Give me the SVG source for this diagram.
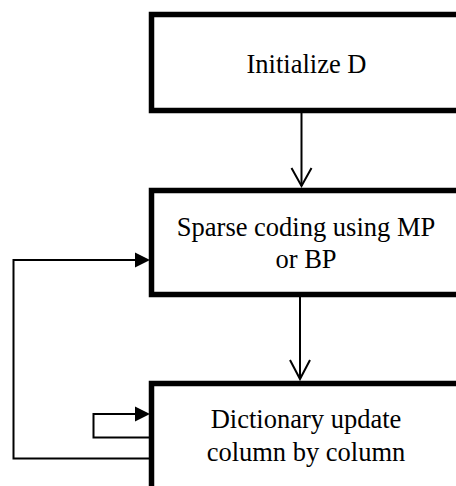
<svg xmlns="http://www.w3.org/2000/svg" width="456" height="486" viewBox="0 0 456 486">
  <style>
    .box { fill: #fff; stroke: #000; stroke-width: 5.5; }
    .lbl { font-family: "Liberation Serif", "Times New Roman", serif; font-size: 26.5px; fill: #000; text-anchor: middle; }
    .wire { fill: none; stroke: #000; stroke-width: 2; }
    .head { fill: none; stroke: #000; stroke-width: 2; }
    .tri { fill: #000; stroke: none; }
  </style>
  <rect width="456" height="486" fill="#fff"/>

  <g id="connectors">
    <!-- Initialize D -> Sparse coding -->
    <line class="wire" x1="301.5" y1="112" x2="301.5" y2="186"/>
    <polyline class="head" points="291.5,168 301.5,186 311.5,168"/>
    <!-- Sparse coding -> Dictionary update -->
    <line class="wire" x1="300" y1="297" x2="300" y2="379"/>
    <polyline class="head" points="290,360 300,379 310,360"/>
    <!-- outer feedback loop back to sparse coding -->
    <polyline class="wire" points="149,458.5 13.5,458.5 13.5,260 136,260"/>
    <polygon class="tri" points="135,252.5 150,260 135,267.5"/>
    <!-- self loop on dictionary update -->
    <polyline class="wire" points="149,437.5 93.5,437.5 93.5,414 136,414"/>
    <polygon class="tri" points="135,406.5 150,414 135,421.5"/>
  </g>

  <g id="init">
    <rect class="box" x="151.5" y="14.5" width="330" height="96"/>
    <text class="lbl" x="306.5" y="73">Initialize D</text>
  </g>

  <g id="sparse">
    <rect class="box" x="151.5" y="190.5" width="330" height="104"/>
    <text class="lbl" x="306" y="236">Sparse coding using MP</text>
    <text class="lbl" x="306" y="267.5">or BP</text>
  </g>

  <g id="dict">
    <rect class="box" x="151.5" y="383.5" width="330" height="150"/>
    <text class="lbl" x="306" y="428">Dictionary update</text>
    <text class="lbl" x="306" y="460.5">column by column</text>
  </g>
</svg>
